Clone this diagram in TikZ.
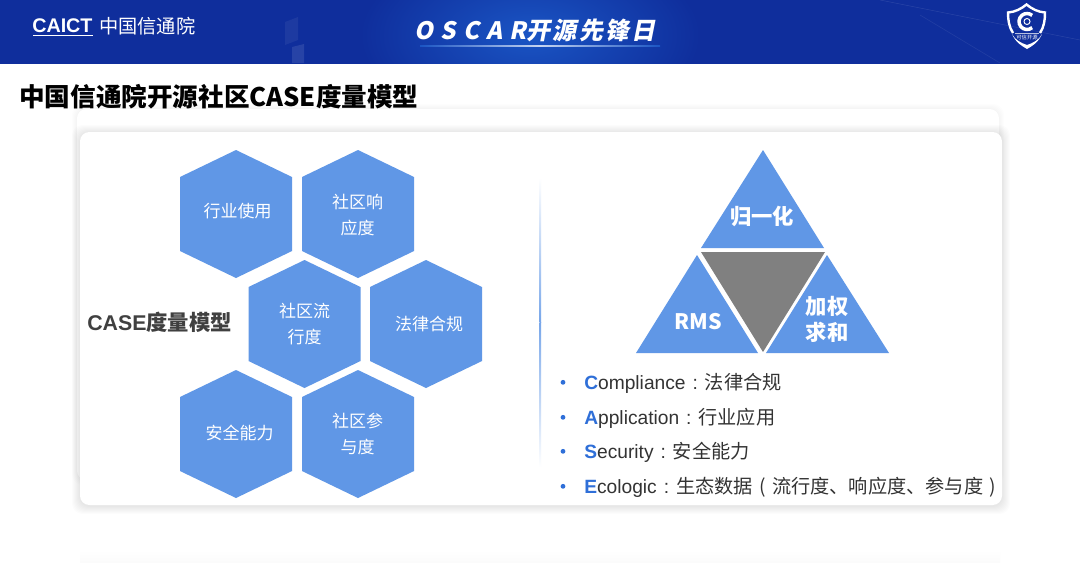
\documentclass[tikz,border=0pt]{standalone}
\usepackage{fontspec}
\setmainfont{Liberation Sans}
\newfontfamily\cjk{Noto Sans CJK SC}
\usetikzlibrary{fadings}
\definecolor{hdr}{HTML}{0F2E9C}
\definecolor{hdrglow}{HTML}{1A55C4}
\definecolor{hexblue}{HTML}{6097E6}
\definecolor{tgrey}{HTML}{808080}
\definecolor{accent}{HTML}{2F6FD8}
\definecolor{bodytext}{HTML}{333333}
\definecolor{labeldark}{HTML}{404040}
\newcommand{\pxs}[1]{\fontsize{#1}{#1}\selectfont}
\tikzset{
  x=0.75pt,y=-0.75pt,
  hexshape/.style={fill=hexblue,draw=none},
  hexlabel/.style={text=white,font=\pxs{12.75}\cjk,align=center,inner sep=0pt},
  trilabel/.style={text=white,font=\pxs{16}\cjk\bfseries,align=center,inner sep=0pt},
  listline/.style={anchor=west,text=bodytext,font=\pxs{14.4},inner sep=0pt},
  listdot/.style={circle,fill=accent,inner sep=0pt,minimum size=3.6pt},
}
\newcommand{\lettr}[1]{\textcolor{accent}{\textbf{#1}}}
\newcommand{\fw}[1]{\makebox[14.4pt][c]{#1}}
\newcommand{\hexat}[2]{%
  \fill[hexshape] (#1,#2-64)--(#1+56,#2-37)--(#1+56,#2+37)--(#1,#2+64)--(#1-56,#2+37)--(#1-56,#2-37)--cycle;
}
\begin{document}
\begin{tikzpicture}
\useasboundingbox (0,0) rectangle (1080,562);
\fill[white] (0,0) rectangle (1080,562);
% header
\fill[hdr] (0,0) rectangle (1080,63.5);
\begin{scope}
\clip (0,0) rectangle (1080,63.5);
\shade[inner color=hdrglow,outer color=hdr] (530,35) ellipse [x radius=170,y radius=90];
\fill[white,opacity=.06] (285,22)--(298,17)--(298,40)--(285,45)--cycle;
\fill[white,opacity=.10] (292,47)--(304,44)--(304,63)--(292,63)--cycle;
\draw[white,opacity=.10] (880,0)--(1080,40);
\draw[white,opacity=.08] (920,15)--(1000,63);
\shade[left color=hdrglow,right color=hdrglow,middle color=white!75!hdrglow] (420,45) rectangle (660,46);
\end{scope}
\node[inner sep=0pt,anchor=west,text=white,font=\pxs{14.8}\bfseries] (caict) at (32,25.5) {CAICT};
\draw[white,line width=.6pt] (33,35)--(93,35);
\node[inner sep=0pt,anchor=west,text=white,font=\pxs{14.4}\cjk] (caictcn) at (99,26) {中国信通院};
\node[inner sep=0pt,anchor=west,text=white,font=\pxs{18}\cjk\bfseries,xslant=.2] (event) at (416,30) {{\addfontfeature{LetterSpace=30}OSCAR}{\addfontfeature{LetterSpace=10}开源先锋日}};
% shield
\draw[white,line width=1.8pt,line join=miter] (1013,33) .. controls (1009,27) and (1008,20) .. (1008,12.5)
  .. controls (1015,12) and (1021,9) .. (1026.5,4.5)
  .. controls (1032,9) and (1038,12) .. (1045,12.5)
  .. controls (1045,20) and (1044,27) .. (1040,33);
\draw[white,line width=2.6pt] (1027,21.5) ++(50:8) arc (50:310:8);
\draw[white,line width=.7pt] (1027,21.5) circle (3);
\fill[white] (1012,34) .. controls (1016,43) and (1022,46) .. (1027,49) .. controls (1032,46) and (1038,43) .. (1042,34)
  .. controls (1039,40) and (1033,43) .. (1027,45) .. controls (1021,43) and (1015,40) .. cycle;
\draw[white,opacity=.7,line width=.5pt] (1015,33)--(1039,33);
\node[inner sep=0pt,text=white,font=\pxs{4}\cjk] (shieldtxt) at (1027,37.5) {可信开源};
% title
\node[inner sep=0pt,anchor=west,text=black,font=\pxs{19.2}\cjk\bfseries] (title) at (19,97) {中国信通院开源社区CASE度量模型};
% cards
\foreach \i in {1,...,5}{
  \fill[black,opacity=.008,rounded corners=8pt] (77-\i,109-\i) rectangle (999+\i,480+\i);
}
\fill[white,rounded corners=7pt] (77,109) rectangle (999,480);
\foreach \i in {1,...,8}{
  \fill[black,opacity=.01,rounded corners=8pt] (80-\i,132-\i+1) rectangle (1002+\i,505+\i+1);
}
\fill[white,rounded corners=7pt] (80,132) rectangle (1002,505);
\shade[top color=white,bottom color=black!1.5] (80,550) rectangle (1000,562);
% hexagons
\hexat{236}{214}
\hexat{358}{214}
\hexat{304.5}{324}
\hexat{426}{324}
\hexat{236}{434}
\hexat{358}{434}
\node[hexlabel] (ha) at (237.5,211) {行业使用};
\node[hexlabel] (hb1) at (357.5,201.5) {社区响};
\node[hexlabel] (hb2) at (357.5,228) {应度};
\node[hexlabel] (hc1) at (304.5,311) {社区流};
\node[hexlabel] (hc2) at (304.5,337.5) {行度};
\node[hexlabel] (hd) at (429,324) {法律合规};
\node[hexlabel] (he) at (239.5,433) {安全能力};
\node[hexlabel] (hf1) at (357.5,421) {社区参};
\node[hexlabel] (hf2) at (357.5,447) {与度};
\node[inner sep=0pt,anchor=west,text=labeldark,font=\pxs{16}\bfseries] (case) at (87,322) {CASE{\cjk 度量模型}};
% divider
\shade[top color=white,bottom color=hexblue!85] (539.5,178) rectangle (541,322);
\shade[top color=hexblue!85,bottom color=white] (539.5,322) rectangle (541,467);
% triangles
\fill[hexblue] (763,150)--(824,248)--(701,248)--cycle;
\fill[hexblue] (697,255)--(758,353)--(636,353)--cycle;
\fill[hexblue] (827,255)--(889,353)--(766,353)--cycle;
\fill[tgrey] (701,252)--(825,252)--(763,352)--cycle;
\node[trilabel] (ta) at (762,216.5) {归一化};
\node[trilabel] (tb) at (698.5,322) {RMS};
\node[trilabel] (tc1) at (827,306) {加权};
\node[trilabel] (tc2) at (827,332) {求和};
% list
\foreach \yy/\tx in {383/{\lettr{C}ompliance\fw{:}{\cjk 法律合规}},
                     418/{\lettr{A}pplication\fw{:}{\cjk 行业应用}},
                     452/{\lettr{S}ecurity\fw{:}{\cjk 安全能力}},
                     487/{\lettr{E}cologic\fw{:}{\cjk 生态数据\fw{(}流行度、响应度、参与度\fw{)}}}}{
  \node[listdot] at (563,\yy-0.7) {};
  \node[listline] at (584,\yy) {\tx};
}
\end{tikzpicture}
\end{document}
